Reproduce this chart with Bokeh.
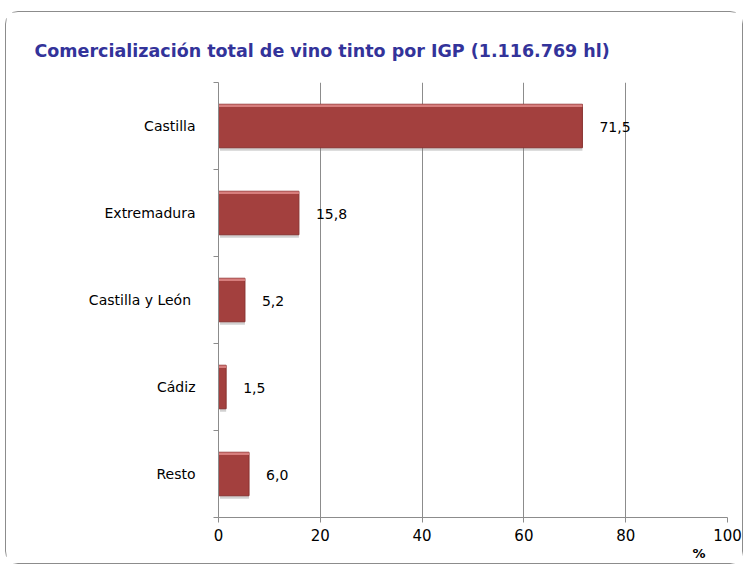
from bokeh.plotting import figure
from bokeh.models import ColumnDataSource, FixedTicker, Range1d, LabelSet, Title
from bokeh.embed import file_html
from bokeh.resources import INLINE
from bokeh.core.properties import value

categories = ["Castilla", "Extremadura", "Castilla  y León", "Cádiz", "Resto"]
values = [71.5, 15.8, 5.2, 1.5, 6.0]
value_labels = ["71,5", "15,8", "5,2", "1,5", "6,0"]
x_ticks = [0, 20, 40, 60, 80, 100]
title_text = "Comercialización total de vino tinto por IGP (1.116.769 hl)"
unit_text = "%"

n = len(categories)
ypos = [n - i - 0.5 for i in range(n)]

src = ColumnDataSource(dict(y=ypos, v=values, lab=value_labels, cat=categories,
                            ys=[y - 0.035 for y in ypos],
                            yt=[y + 0.232 for y in ypos]))

FONT = "DejaVu Sans"

p = figure(width=736, height=551, output_backend="svg", toolbar_location=None,
           x_range=Range1d(0, 100), y_range=Range1d(0, n))
p.margin = (12, 2, 9, 6)
p.styles = {"outline": "1px solid #8c8c8c", "border-radius": "12px"}
p.min_border_left = 212
p.min_border_right = 15
p.min_border_top = 70
p.min_border_bottom = 46
p.outline_line_color = None
p.background_fill_color = "white"
p.border_fill_color = "white"

# title
p.title.text = title_text
p.title.align = "left"
p.title.offset = -184
p.title.standoff = 44
p.title.text_font = FONT
p.title.text_font_style = "bold"
p.title.text_font_size = "17.5px"
p.title.text_color = "#33339A"

# grid
p.xgrid.ticker = FixedTicker(ticks=x_ticks)
p.xgrid.grid_line_color = "#8c8c8c"
p.xgrid.grid_line_width = 1
p.ygrid.grid_line_color = None

# x axis
p.xaxis.ticker = FixedTicker(ticks=x_ticks)
p.xaxis.axis_line_color = "#8c8c8c"
p.xaxis.major_tick_line_color = "#8c8c8c"
p.xaxis.major_tick_out = 5
p.xaxis.major_tick_in = 0
p.xaxis.minor_tick_line_color = None
p.xaxis.major_label_text_font = FONT
p.xaxis.major_label_text_font_size = "15px"
p.xaxis.major_label_text_color = "black"
p.xaxis.major_label_standoff = 6

# y axis: labels at category centres, ticks at category boundaries
p.yaxis.ticker = FixedTicker(ticks=ypos, minor_ticks=list(range(n + 1)))
p.yaxis.major_label_overrides = {y: c for y, c in zip(ypos, categories)}
p.yaxis.axis_line_color = "#8c8c8c"
p.yaxis.major_tick_line_color = None
p.yaxis.major_tick_out = 0
p.yaxis.major_tick_in = 0
p.yaxis.minor_tick_line_color = "#8c8c8c"
p.yaxis.minor_tick_out = 5
p.yaxis.minor_tick_in = 0
p.yaxis.major_label_text_font = FONT
p.yaxis.major_label_text_font_size = "14px"
p.yaxis.major_label_text_color = "black"
p.yaxis.major_label_standoff = 18

# bars (shadow, body, top highlight)
p.hbar(y="ys", left=0.3, right="v", height=0.5, source=src,
       fill_color="#7a7a7a", fill_alpha=0.35, line_color=None)
p.hbar(y="y", left=0, right="v", height=0.5, source=src,
       fill_color="#A3403E", line_color="#8A3331", line_width=1)
p.hbar(y="yt", left=0, right="v", height=0.03, source=src,
       fill_color="#E08A88", fill_alpha=0.85, line_color=None)

labels = LabelSet(x="v", y="y", text="lab", source=src, x_offset=17, y_offset=-1,
                  text_font=value(FONT), text_font_size="14px", text_color="black",
                  text_baseline="middle", text_align="left")
p.add_layout(labels)

unit_title = Title(text=unit_text, align="right", offset=22, standoff=0,
                   text_font=FONT, text_font_style="bold", text_font_size="13px",
                   text_color="black")
p.add_layout(unit_title, "below")

open("out.html", "w").write(file_html(p, INLINE))
